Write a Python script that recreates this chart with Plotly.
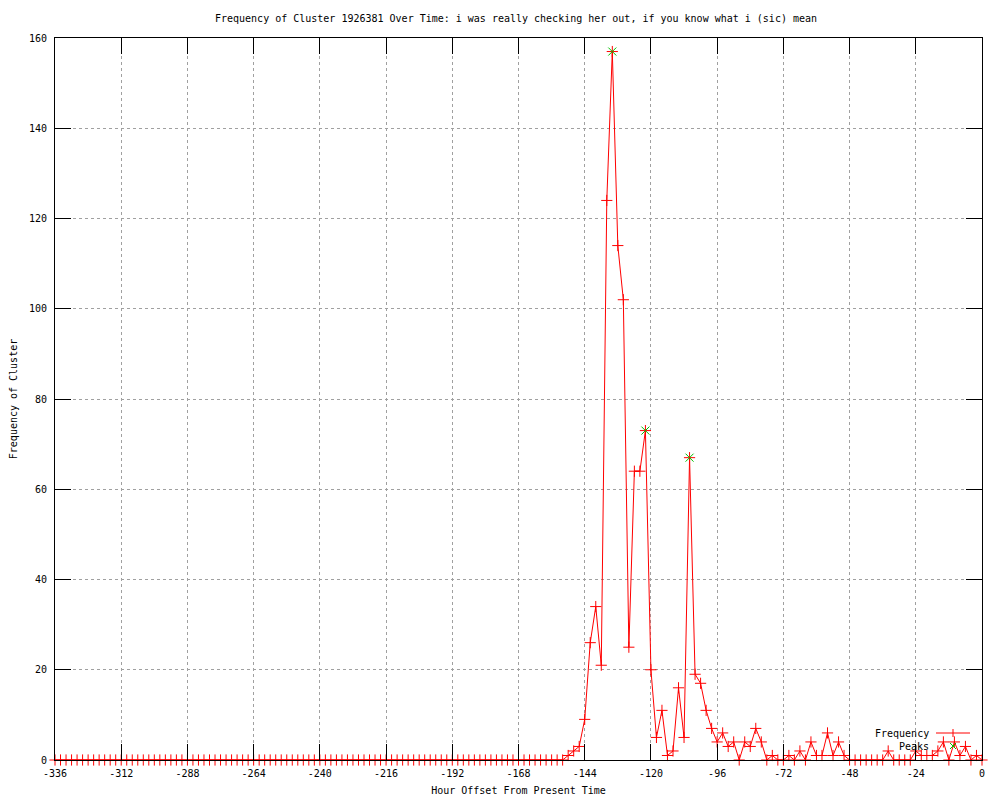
import plotly.graph_objects as go

# ---- data ----
hours = list(range(-336, 1, 2))
frequency = [
    0, 0, 0, 0, 0, 0, 0, 0, 0, 0, 0, 0, 0, 0, 0, 0, 0, 0, 0, 0,
    0, 0, 0, 0, 0, 0, 0, 0, 0, 0, 0, 0, 0, 0, 0, 0, 0, 0, 0, 0,
    0, 0, 0, 0, 0, 0, 0, 0, 0, 0, 0, 0, 0, 0, 0, 0, 0, 0, 0, 0,
    0, 0, 0, 0, 0, 0, 0, 0, 0, 0, 0, 0, 0, 0, 0, 0, 0, 0, 0, 0,
    0, 0, 0, 0, 0, 0, 0, 0, 0, 0, 0, 0, 0,
    1, 2, 3, 9, 26, 34, 21, 124, 157, 114,
    102, 25, 64, 64, 73, 20, 5, 11, 1, 2,
    16, 5, 67, 19, 17, 11, 7, 4, 6, 3,
    4, 0, 4, 3, 7, 4, 0, 1, 0, 0,
    1, 0, 2, 0, 4, 1, 1, 6, 1, 4,
    1, 0, 0, 0, 0, 0, 0, 0, 2, 0,
    0, 0, 0, 2, 1, 1, 1, 2, 4, 0,
    4, 1, 3, 0, 1, 0, 0,
]
peak_hours = [-134, -122, -106]
peak_values = [157, 73, 67]
x_ticks = [-336, -312, -288, -264, -240, -216, -192, -168, -144, -120, -96, -72, -48, -24, 0]
y_ticks = [0, 20, 40, 60, 80, 100, 120, 140, 160]

TITLE = "Frequency of Cluster 1926381 Over Time: i was really checking her out, if you know what i (sic) mean"
FONT = "DejaVu Sans Mono"

# the page body adds an 8px margin; figure is sized/positioned to compensate
OFF = 8
W, H = 1000 - OFF, 800 - OFF
PL, PR, PT, PB = 55, 982, 38, 760          # plot area in page pixels
L, T = PL - OFF, PT - OFF
R, B = W - (PR - OFF), H - (PB - OFF)


def px(x):
    return (x - PL) / (PR - PL)


def py(y):
    return 1 - (y - PT) / (PB - PT)


fig = go.Figure()
fig.add_trace(go.Scatter(
    x=hours, y=frequency, mode="lines+markers", name="Frequency",
    line=dict(color="#ff0000", width=1),
    marker=dict(symbol="cross-thin", size=8, color="#ff0000",
                line=dict(color="#ff0000", width=1)),
    cliponaxis=False, showlegend=False,
))
fig.add_trace(go.Scatter(
    x=peak_hours, y=peak_values, mode="markers", name="Peaks",
    marker=dict(symbol="x-thin", size=8, color="#00c000",
                line=dict(color="#00c000", width=1)),
    cliponaxis=False, showlegend=False,
))

axis_common = dict(
    showline=True, linecolor="black", linewidth=1, mirror="ticks",
    ticks="inside", ticklen=16, tickcolor="black", tickwidth=1,
    showgrid=True, gridcolor="#a0a0a0", griddash="3px,3px", gridwidth=1,
    zeroline=False,
    tickfont=dict(family=FONT, size=10, color="black"),
)

fig.update_xaxes(
    range=[-336, 0], tickmode="array", tickvals=x_ticks,
    ticktext=[str(v) for v in x_ticks],
    title=dict(text="Hour Offset From Present Time",
               font=dict(family=FONT, size=10, color="black"), standoff=8),
    ticklabelstandoff=4,
    **axis_common,
)
fig.update_yaxes(
    range=[0, 160], tickmode="array", tickvals=y_ticks,
    ticktext=[str(v) for v in y_ticks],
    title=dict(text="Frequency of Cluster",
               font=dict(family=FONT, size=10, color="black"), standoff=10),
    ticklabelstandoff=5,
    **axis_common,
)

# gnuplot-style key (text on the left, sample on the right)
shapes = [
    dict(type="line", xref="paper", yref="paper",
         x0=px(936), x1=px(970), y0=py(733), y1=py(733),
         line=dict(color="#ff0000", width=1)),
    dict(type="line", xref="paper", yref="paper",
         x0=px(953), x1=px(953), y0=py(729), y1=py(737),
         line=dict(color="#ff0000", width=1)),
    dict(type="line", xref="paper", yref="paper",
         x0=px(950), x1=px(956), y0=py(743), y1=py(749),
         line=dict(color="#00c000", width=1)),
    dict(type="line", xref="paper", yref="paper",
         x0=px(950), x1=px(956), y0=py(749), y1=py(743),
         line=dict(color="#00c000", width=1)),
]
annotations = [
    dict(text="Frequency", xref="paper", yref="paper", x=px(931), y=py(733),
         xanchor="right", yanchor="middle", showarrow=False,
         font=dict(family=FONT, size=10, color="black")),
    dict(text="Peaks", xref="paper", yref="paper", x=px(931), y=py(746),
         xanchor="right", yanchor="middle", showarrow=False,
         font=dict(family=FONT, size=10, color="black")),
]

fig.update_layout(
    width=W, height=H,
    margin=dict(l=L, r=R, t=T, b=B, autoexpand=False),
    paper_bgcolor="white", plot_bgcolor="white",
    title=dict(text=TITLE, xref="container", x=(516 - OFF) / W, xanchor="center",
               yref="container", y=1 - (18 - OFF) / H, yanchor="middle",
               font=dict(family=FONT, size=10, color="black")),
    shapes=shapes, annotations=annotations,
    showlegend=False,
)

fig.write_html("out.html")
